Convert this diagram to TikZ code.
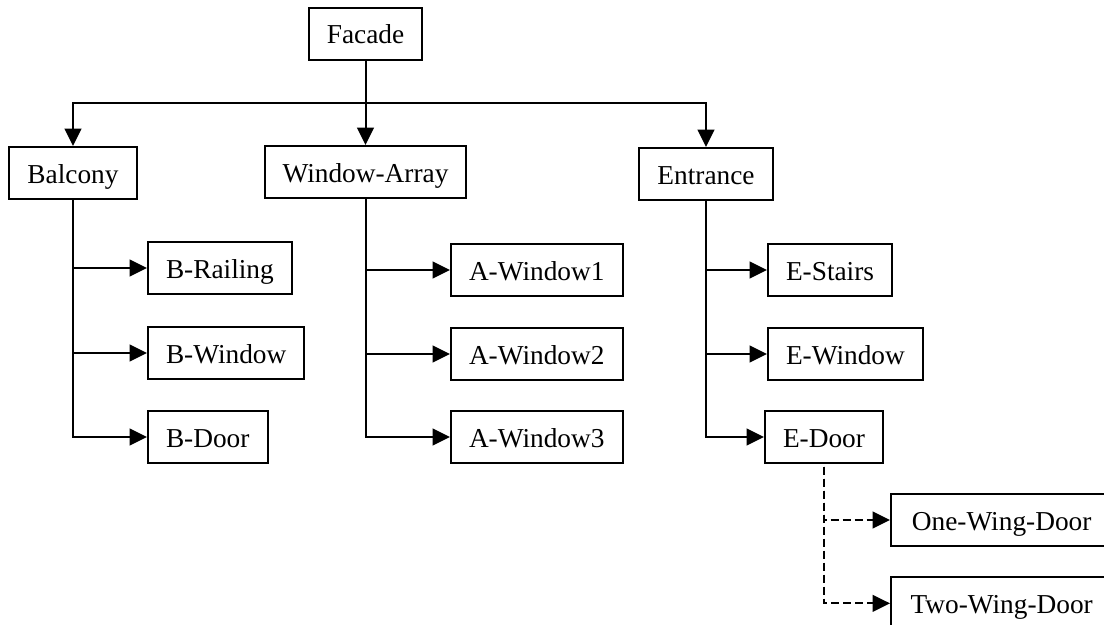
\documentclass[tikz,border=0pt]{standalone}
\usepackage{fontspec}
\setmainfont{Liberation Serif}
\usetikzlibrary{arrows.meta,positioning}

\begin{document}
\begin{tikzpicture}[x=0.75pt,y=-0.75pt,line width=1.5pt,
  box/.style={draw,rectangle,inner xsep=13.5pt,minimum height=39pt,
    text height=15pt,text depth=0pt,font=\fontsize{20.5}{24}\selectfont},
  widebox/.style={box,minimum width=166pt},
  arr/.style={-{Triangle[length=13pt,width=12.5pt]}},
  darr/.style={arr,dash pattern=on 6pt off 3pt}]

 \clip (0,0) rectangle (1104,625);

 \node[box] (facade) at (365.5,33.5) {Facade};

 \node[box] (balcony) at (73,173) {Balcony};
 \node[box] (winarr) at (365.5,172) {Window-Array};
 \node[box] (entrance) at (706,174) {Entrance};

 % parts of the balcony
 \node[box,anchor=west] (brail) at (147,268) {B-Railing};
 \node[box,anchor=west] (bwin) at (147,353) {B-Window};
 \node[box,anchor=west] (bdoor) at (147,437) {B-Door};

 % parts of the window array
 \node[box,anchor=west] (awin1) at (450,270) {A-Window1};
 \node[box,anchor=west] (awin2) at (450,354) {A-Window2};
 \node[box,anchor=west] (awin3) at (450,437) {A-Window3};

 % parts of the entrance
 \node[box,anchor=west] (estairs) at (767,270) {E-Stairs};
 \node[box,anchor=west] (ewin) at (767,354) {E-Window};
 \node[box,anchor=west] (edoor) at (764,437) {E-Door};

 \node[widebox,anchor=west] (onewing) at (890,520) {One-Wing-Door};
 \node[widebox,below=22pt of onewing] (twowing) {Two-Wing-Door};

 \coordinate (split) at (365.5,103);

 \draw (facade.south) -- (split);
 \draw[arr] (split) -- (winarr.north);
 \draw[arr] (split) -| (balcony.north);
 \draw[arr] (split) -| (entrance.north);

 % branches on the left side
 \draw[arr] (balcony.south) |- (brail.west);
 \draw[arr] (balcony.south) |- (bwin.west);
 \draw[arr] (balcony.south) |- (bdoor.west);

 \draw[arr] (winarr.south) |- (awin1.west);
 \draw[arr] (winarr.south) |- (awin2.west);
 \draw[arr] (winarr.south) |- (awin3.west);

 % branches on the right side
 \draw[arr] (entrance.south) |- (estairs.west);
 \draw[arr] (entrance.south) |- (ewin.west);
 \draw[arr] (entrance.south) |- (edoor.west);

 \draw[darr] ([yshift=-2pt]edoor.south) |- (onewing.west);
 \draw[darr] ([yshift=-2pt]edoor.south) |- (twowing.west);

\end{tikzpicture}
\end{document}
